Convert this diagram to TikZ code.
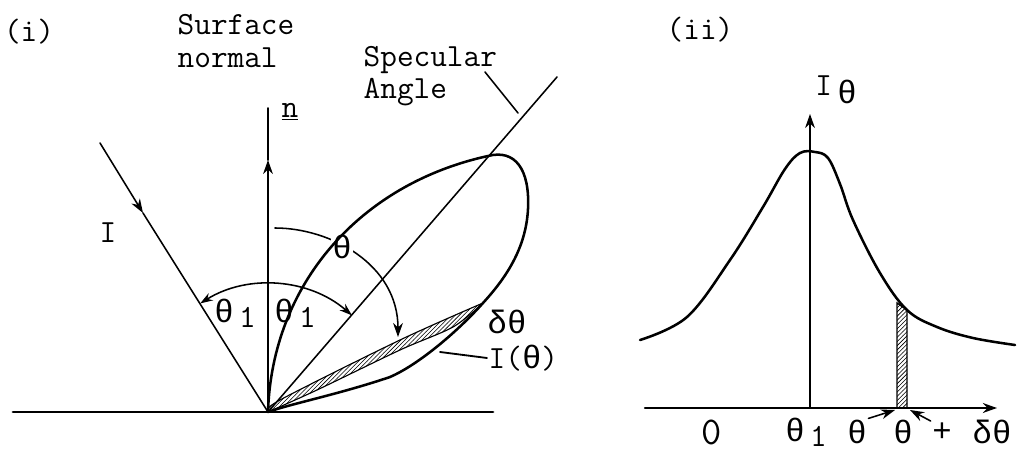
\documentclass[tikz,border=0pt]{standalone}
\usepackage{fontspec}
\newfontfamily\grk{Liberation Mono}
\usetikzlibrary{arrows.meta,patterns}
\newcommand{\thet}{{\grk θ}}
\newcommand{\thone}{{\grk θ}\,\raisebox{-0.35ex}{1}}

\begin{document}
\begin{tikzpicture}[x=0.025cm,y=0.025cm,line cap=round,
  every node/.style={font=\ttfamily\fontsize{23}{23}\selectfont,inner sep=1pt},
  tip/.style={-{Stealth[length=10pt,width=7pt]}},
  thin line/.style={line width=1.1pt}]
\useasboundingbox (0,0) rectangle (1020,454);
% (i) reflection at the surface
\coordinate (O) at (268,42);
\coordinate (surfL) at (13,42);
\coordinate (surfR) at (493,42);
\coordinate (nMid) at (268,294);
\coordinate (nTop) at (268,346);
\coordinate (inc) at (100,311);
\coordinate (incMid) at (143,241);
\coordinate (spec) at (557,377);
\draw[line width=2pt] (surfL) -- (surfR);
\draw[thin line,tip] (O) -- (nMid);
\draw[thin line] (nMid) -- (nTop);
\draw[thin line,tip] (inc) -- (incMid);
\draw[thin line] (incMid) -- (O);
\draw[thin line] (O) -- (spec);
\draw[thin line,{Stealth[length=9pt,width=6pt]}-{Stealth[length=9pt,width=6pt]}]
  ([shift={(122:128)}]O) arc[start angle=122,end angle=49,radius=128];
\coordinate (thA) at (275,226);
\coordinate (thB) at (398,117);
\draw[thin line,tip] (thA) .. controls (330,226) and (398,190) .. (thB);
\node[fill=white] (thlbl) at (342,207) {\thet};
\draw[line width=0.8pt,pattern=north east lines]
  plot[smooth,tension=0.5] coordinates {(268,42) (280,54) (400,114) (483,151)}
  -- plot[smooth,tension=0.5] coordinates {(483,151) (453,127) (400,104) (317,64) (268,42)} -- cycle;
\draw[line width=1.8pt] (O) .. controls (272,170) and (360,270) .. (488,298)
  .. controls (515,305) and (530,285) .. (528,245)
  .. controls (526,205) and (505,175) .. (483,151)
  .. controls (460,125) and (420,90) .. (390,77)
  .. controls (340,60) and (290,50) .. (O);
\node (lbli) at (29,422) {(i)};
\node[anchor=west,align=left] (surf) at (176,413) {Surface\\normal};
\node[anchor=west,align=left] (specl) at (362,378) {Specular\\Angle};
\coordinate (tickA) at (485,382);
\coordinate (tickB) at (518,341);
\draw[thin line] (tickA) -- (tickB);
\node (nlbl) at (290,342) {\underline{n}};
\node (Ilbl) at (108,221) {I};
\node (th1l) at (235,141) {\thone};
\node (th1r) at (295,141) {\thone};
\node (dth) at (507,132) {{\grk δθ}};
\node[anchor=west] (Ith) at (487,96) {I({\grk θ})};
\coordinate (ptr) at (440,102);
\draw[line width=1.3pt] (ptr) -- (Ith.west);
% (ii) intensity distribution
\coordinate (ax0) at (645,46);
\coordinate (axE) at (997,46);
\coordinate (vB) at (810,46);
\coordinate (vT) at (810,340);
\draw[line width=1.6pt,tip] (ax0) -- (axE);
\draw[thin line,tip] (vB) -- (vT);
\draw[line width=1.8pt] plot[smooth,tension=0.6] coordinates {(640,114) (687,137) (730,194) (763,247)
  (785,285) (800,301) (815,302) (828,296) (840,270) (853,234) (880,181) (907,144) (937,127)
  (973,116) (1015,109)};
\draw[line width=1pt,pattern=north east lines] (897,46) -- (907,46) -- (907,144) -- (897,151) -- cycle;
\node (lblii) at (700,424) {(ii)};
\node (Itheta) at (836,364) {I\,\raisebox{-0.6ex}{\grk θ}};
\node[font=\ttfamily\fontsize{28}{28}\selectfont] (zero) at (712,22) {0};
\node (th1b) at (806,22) {\thone};
\node (thb) at (857,22) {\thet};
\node (thc) at (903,22) {\thet};
\node (plus) at (942,22) {\grk +};
\node (dthb) at (992,22) {{\grk δθ}};
\coordinate (barL) at (895,44);
\coordinate (barR) at (910,44);
\draw[thin line,tip] (thb.north east) -- (barL);
\draw[thin line,tip] (plus.north west) -- (barR);
\end{tikzpicture}
\end{document}
